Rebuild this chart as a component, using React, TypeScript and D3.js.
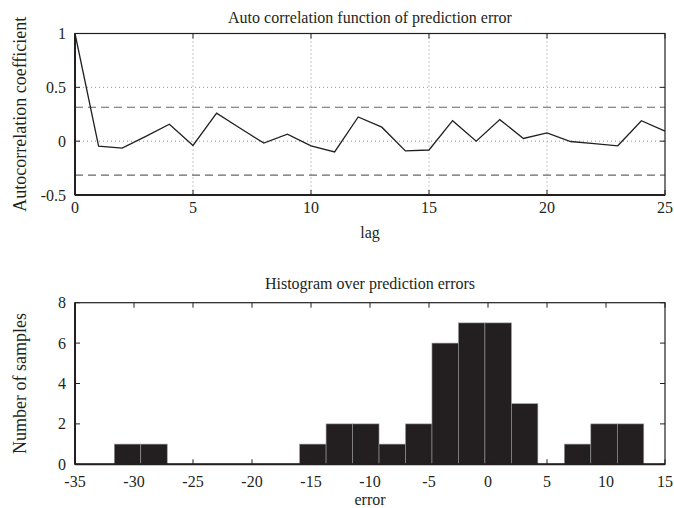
import React from "react";
import * as d3 from "d3";

// autocorrelation of prediction error, lags 0..25
const lags = d3.range(0, 26);
const acf = [
  1, -0.046, -0.065, 0.045, 0.157, -0.04, 0.26, 0.12, -0.018, 0.065,
  -0.043, -0.1, 0.225, 0.13, -0.09, -0.082, 0.19, 0.0, 0.2, 0.025,
  0.077, -0.003, -0.022, -0.043, 0.19, 0.093,
];
const confLimit = 0.315;
const acfXTicks = [0, 5, 10, 15, 20, 25];
const acfYTicks = [-0.5, 0, 0.5, 1];

// histogram of prediction errors (20 bins)
const histMin = -31.67;
const histMax = 13.2;
const histCounts = [1, 1, 0, 0, 0, 0, 0, 1, 2, 2, 1, 2, 6, 7, 7, 3, 0, 1, 2, 2];
const histXTicks = [-35, -30, -25, -20, -15, -10, -5, 0, 5, 10, 15];
const histYTicks = [0, 2, 4, 6, 8];

const FONT = "'Liberation Serif', 'Times New Roman', serif";
const INK = "#231f20";

const fmt = (v: number) => String(v);

export default function App() {
  const W = 674, H = 508;
  const left = 75, right = 665;

  // top panel
  const x1 = d3.scaleLinear().domain([0, 25]).range([left, right]);
  const y1 = d3.scaleLinear().domain([-0.5, 1]).range([195, 33.5]);
  const line = d3.line<number>().x((_, i) => x1(lags[i])).y((d) => y1(d));

  // bottom panel
  const x2 = d3.scaleLinear().domain([-35, 15]).range([left, right]);
  const y2 = d3.scaleLinear().domain([0, 8]).range([464.3, 302.7]);
  const binW = (histMax - histMin) / histCounts.length;

  const tick = 5;

  return (
    <svg width={W} height={H} style={{ position: "absolute", left: 0, top: 0, background: "#fff" }} fontFamily={FONT}>
      {/* ---------- ACF panel ---------- */}
      <text x={370} y={23} textAnchor="middle" fontSize={16} fill={INK}>
        Auto correlation function of prediction error
      </text>
      {/* grid */}
      {acfXTicks.filter((t) => t > 0 && t < 25).map((t) => (
        <line key={"gx" + t} x1={x1(t)} x2={x1(t)} y1={y1(1)} y2={y1(-0.5)} stroke="#777" strokeWidth={0.8} strokeDasharray="1,3" />
      ))}
      {[0, 0.5].map((t) => (
        <line key={"gy" + t} x1={left} x2={right} y1={y1(t)} y2={y1(t)} stroke="#777" strokeWidth={0.8} strokeDasharray="1,3" />
      ))}
      {/* confidence limits */}
      {[confLimit, -confLimit].map((c) => (
        <line key={"c" + c} x1={left} x2={right} y1={y1(c)} y2={y1(c)} stroke="#666" strokeWidth={1.2} strokeDasharray="8,5" />
      ))}
      <path d={line(acf) || ""} fill="none" stroke={INK} strokeWidth={1.3} />
      {/* ticks */}
      {acfYTicks.map((t) => (
        <g key={"yt" + t}>
          <line x1={left} x2={left + tick} y1={y1(t)} y2={y1(t)} stroke={INK} />
          <line x1={right} x2={right - tick} y1={y1(t)} y2={y1(t)} stroke={INK} />
          <text x={66} y={y1(t) + 5.5} textAnchor="end" fontSize={16} fill={INK}>{fmt(t)}</text>
        </g>
      ))}
      {acfXTicks.map((t) => (
        <g key={"xt" + t}>
          <line x1={x1(t)} x2={x1(t)} y1={y1(-0.5)} y2={y1(-0.5) - tick} stroke={INK} />
          <line x1={x1(t)} x2={x1(t)} y1={y1(1)} y2={y1(1) + tick} stroke={INK} />
          <text x={x1(t)} y={213} textAnchor="middle" fontSize={16} fill={INK}>{fmt(t)}</text>
        </g>
      ))}
      <rect x={left} y={y1(1)} width={right - left} height={y1(-0.5) - y1(1)} fill="none" stroke={INK} strokeWidth={1.2} />
      <line x1={left} x2={left} y1={y1(1)} y2={y1(-0.5)} stroke={INK} strokeWidth={2} />
      <line x1={left} x2={right} y1={y1(-0.5)} y2={y1(-0.5)} stroke={INK} strokeWidth={2} />
      <text x={370} y={238} textAnchor="middle" fontSize={16} fill={INK}>lag</text>
      <text transform={`translate(26,${(y1(1) + y1(-0.5)) / 2}) rotate(-90)`} textAnchor="middle" fontSize={18} fill={INK}>
        Autocorrelation coefficient
      </text>

      {/* ---------- Histogram panel ---------- */}
      <text x={370} y={289} textAnchor="middle" fontSize={16} fill={INK}>
        Histogram over prediction errors
      </text>
      {histCounts.map((c, i) => {
        const x0 = histMin + i * binW;
        if (c === 0) return null;
        return (
          <rect key={"b" + i} x={x2(x0)} y={y2(c)} width={x2(x0 + binW) - x2(x0)} height={y2(0) - y2(c)}
            fill={INK} stroke="#999" strokeWidth={0.6} />
        );
      })}
      {histYTicks.map((t) => (
        <g key={"hy" + t}>
          <line x1={left} x2={left + tick} y1={y2(t)} y2={y2(t)} stroke={INK} />
          <line x1={right} x2={right - tick} y1={y2(t)} y2={y2(t)} stroke={INK} />
          <text x={66} y={y2(t) + 5.5} textAnchor="end" fontSize={16} fill={INK}>{fmt(t)}</text>
        </g>
      ))}
      {histXTicks.map((t) => (
        <g key={"hx" + t}>
          <line x1={x2(t)} x2={x2(t)} y1={y2(0)} y2={y2(0) - tick} stroke={INK} />
          <line x1={x2(t)} x2={x2(t)} y1={y2(8)} y2={y2(8) + tick} stroke={INK} />
          <text x={x2(t)} y={487} textAnchor="middle" fontSize={16} fill={INK}>{fmt(t)}</text>
        </g>
      ))}
      <rect x={left} y={y2(8)} width={right - left} height={y2(0) - y2(8)} fill="none" stroke={INK} strokeWidth={1.2} />
      <line x1={left} x2={left} y1={y2(8)} y2={y2(0)} stroke={INK} strokeWidth={2} />
      <line x1={left} x2={right} y1={y2(0)} y2={y2(0)} stroke={INK} strokeWidth={2} />
      <text x={370} y={505} textAnchor="middle" fontSize={16} fill={INK}>error</text>
      <text transform={`translate(26,${(y2(8) + y2(0)) / 2}) rotate(-90)`} textAnchor="middle" fontSize={18} fill={INK}>
        Number of samples
      </text>
    </svg>
  );
}
